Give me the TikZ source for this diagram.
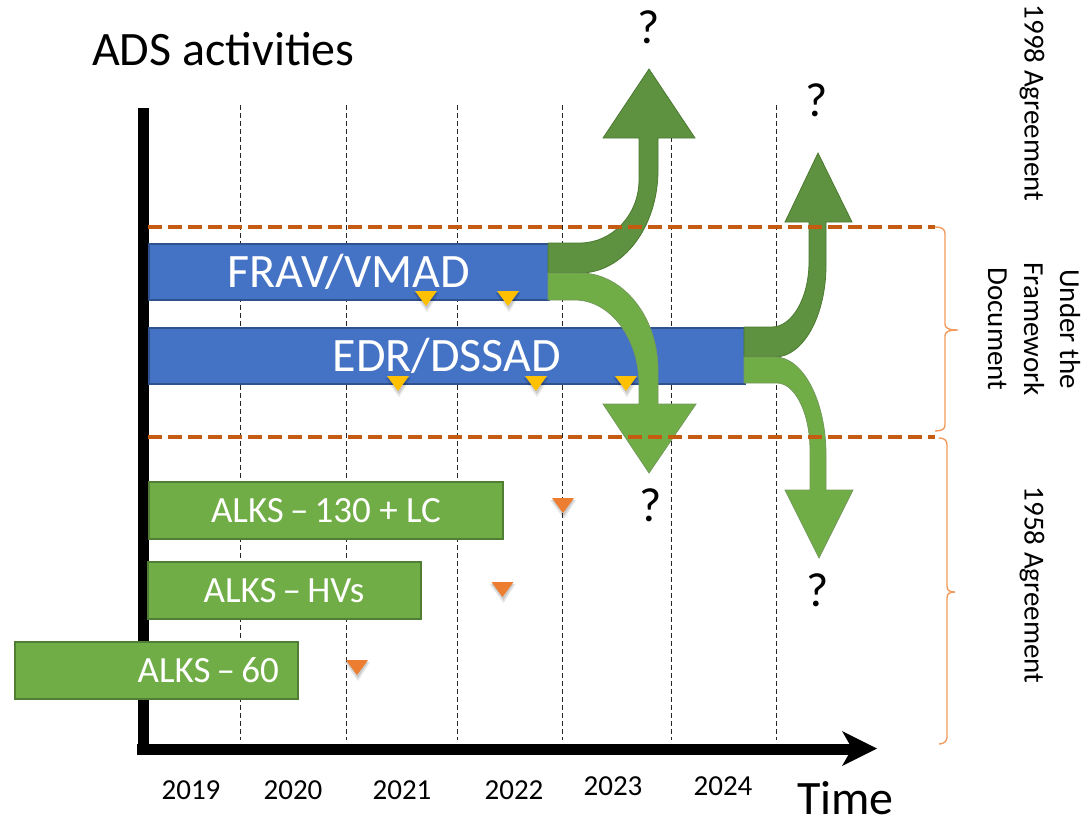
\documentclass[tikz,border=0pt]{standalone}
\usepackage{fontspec}
\setmainfont{Carlito}
\definecolor{blueF}{HTML}{4472C4}
\definecolor{blueD}{HTML}{2F528F}
\definecolor{greenF}{HTML}{70AD47}
\definecolor{greenD}{HTML}{507E32}
\definecolor{darkG}{HTML}{5E9140}
\definecolor{darkGD}{HTML}{4C7A30}
\definecolor{sepc}{HTML}{C55A11}
\definecolor{bracec}{HTML}{F29B5E}
\definecolor{yellowM}{HTML}{FFC000}
\definecolor{orangeM}{HTML}{ED7D31}
\begin{document}
\begin{tikzpicture}[x=1pt,y=-1pt,
  grid/.style={black!85, line width=0.9pt, dash pattern=on 5pt off 3pt},
  sep/.style={draw=sepc, line width=3.5pt, dash pattern=on 14pt off 6pt},
  bluebox/.style={fill=blueF, draw=blueD, line width=1.5pt, text=white,
    font=\fontsize{48}{52}\selectfont, text height=30.9pt, text depth=0pt,
    inner sep=0pt, anchor=north west, minimum height=56pt},
  greenbox/.style={fill=greenF, draw=greenD, line width=2pt, text=white,
    font=\fontsize{37}{40}\selectfont, text height=23.8pt, text depth=0pt,
    inner sep=0pt, anchor=north west, minimum height=57pt},
  boxlabel/.style={text=white, font=\fontsize{37}{40}\selectfont, text height=23.8pt,
    text depth=0pt, inner sep=0pt},
  lightarr/.style={fill=greenF, draw=greenD!80, line width=0.8pt},
  darkarr/.style={fill=darkG, draw=darkGD, line width=0.8pt},
  bigtxt/.style={font=\fontsize{48}{52}\selectfont, inner sep=0pt},
  yeartxt/.style={font=\fontsize{29}{35}\selectfont, inner sep=0pt, anchor=base},
  sidetxt/.style={font=\fontsize{29}{36}\selectfont, inner sep=0pt, rotate=-90, align=center},
  bracestyle/.style={draw=bracec, line width=1.4pt},
  trimark/.pic={
    \fill[black,opacity=0.10] (-13,2) -- (13,2) -- (1,21) -- cycle;
    \fill[black,opacity=0.12] (-11,2) -- (11,2) -- (1,18) -- cycle;
    \fill[pic actions] (-11,0) -- (11,0) -- (0,15) -- cycle;
  }
]
\useasboundingbox (0,0) rectangle (1089,822);

% grid lines
\foreach \gx in {240,346,457,562,671,776}{
  \draw[grid] (\gx,105) -- (\gx,740);
}

% axes
\coordinate (ytop) at (143,108);
\coordinate (orig) at (143,755);
\coordinate (xstart) at (137,749);
\coordinate (xend) at (855,749);
\draw[line width=11pt] (ytop) -- (orig);
\draw[line width=11pt] (xstart) -- (xend);
\fill (842,731) -- (877,748.5) -- (842,766) -- (852,748.5) -- cycle;

% boxes
\node[bluebox, minimum width=400pt] (frav) at (148,243) {FRAV/VMAD};
\node[bluebox, minimum width=596pt] (edr) at (148,327) {EDR/DSSAD};
\node[greenbox, minimum width=354pt] (alksA) at (148,481) {ALKS\,–\,130 + LC};
\node[greenbox, minimum width=273pt] (alksB) at (146.5,561) {ALKS\,–\,HVs};
\node[greenbox, minimum width=283pt] (alksC) at (14,641) {};
\node[boxlabel, anchor=east] (alksClab) at ([xshift=-20pt]alksC.east) {ALKS\,–\,60};

% arrows from FRAV/VMAD
\path[darkarr] (548,243) -- (580,243) .. controls (612,243) and (639,215) .. (639,180)
  -- (639,138) -- (603,138) -- (649,69) -- (695,138) -- (658,138) -- (658,170)
  .. controls (658,227) and (623,273) .. (580,273) -- (548,273) -- cycle;
\path[lightarr] (548,273) -- (580,273) .. controls (623,273) and (658,317) .. (658,370)
  -- (658,404) -- (696,404) -- (649,473) -- (603,404) -- (639,404) -- (639,385)
  .. controls (639,338) and (610,300) .. (575,300) -- (548,300) -- cycle;

% arrows from EDR/DSSAD
\path[darkarr] (744,327) -- (772,327) .. controls (792,327) and (809,298) .. (809,262)
  -- (809,222) -- (785,222) -- (818,153) -- (852,222) -- (826,222) -- (826,265)
  .. controls (826,316) and (803,357) .. (775,357) -- (744,357) -- cycle;
\path[lightarr] (744,357) -- (775,357) .. controls (803,357) and (826,401) .. (826,455)
  -- (826,490) -- (853,490) -- (819,558) -- (785,490) -- (810,490) -- (810,450)
  .. controls (810,413) and (795,383) .. (777,383) -- (744,383) -- cycle;

% markers
\pic[fill=yellowM] at (426,291) {trimark};
\pic[fill=yellowM] at (508,291) {trimark};
\pic[fill=yellowM] at (398,376) {trimark};
\pic[fill=yellowM] at (536,376) {trimark};
\pic[fill=yellowM] at (626,376) {trimark};
\pic[fill=orangeM] at (563,498) {trimark};
\pic[fill=orangeM] at (502.5,582) {trimark};
\pic[fill=orangeM] at (357,660) {trimark};

% separators
\coordinate (s1a) at (148,227);
\coordinate (s1b) at (935,227);
\coordinate (s2a) at (148,437);
\coordinate (s2b) at (935,437);
\draw[sep] (s1a) -- (s1b);
\draw[sep] (s2a) -- (s2b);

% braces
\draw[bracestyle] (935,227) .. controls (942,227) and (945,229) .. (945,234) -- (945,324)
  .. controls (945,328) and (948,330) .. (958,330) .. controls (948,330) and (945,332) .. (945,336)
  -- (945,425) .. controls (945,429) and (942,431) .. (935,431);
\draw[bracestyle] (939,438) .. controls (944,438) and (947,440) .. (947,445) -- (947,586)
  .. controls (947,590) and (949,592) .. (955,592) .. controls (949,592) and (947,594) .. (947,598)
  -- (947,737) .. controls (947,741) and (944,744) .. (939,744);

% texts
\node[bigtxt, anchor=base west] (title) at (92,65) {ADS activities};
\node[bigtxt, anchor=base west] (time) at (797,814) {Time};
\node[bigtxt] (q1) at (649,27) {?};
\node[bigtxt] (q2) at (817,100) {?};
\node[bigtxt] (q3) at (651,505) {?};
\node[bigtxt] (q4) at (818,590) {?};

\node[yeartxt] (y19) at (191,799) {2019};
\node[yeartxt] (y20) at (293,799) {2020};
\node[yeartxt] (y21) at (402,799) {2021};
\node[yeartxt] (y22) at (514,799) {2022};
\node[yeartxt] (y23) at (613,795) {2023};
\node[yeartxt] (y24) at (723,795) {2024};

\node[sidetxt] (agr98) at (1032,103) {1998 Agreement};
\node[sidetxt] (fw) at (1034,329) {Under the\\Framework\\Document};
\node[sidetxt] (agr58) at (1032,585) {1958 Agreement};
\end{tikzpicture}
\end{document}
